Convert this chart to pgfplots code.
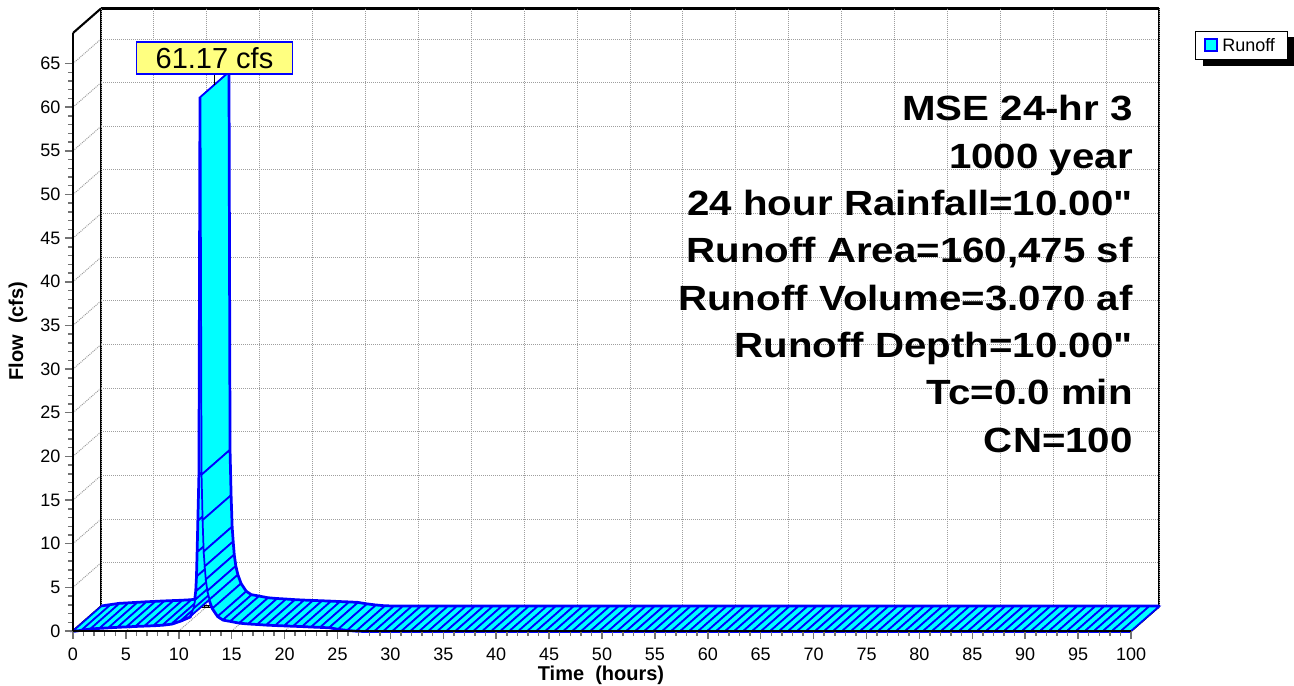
\documentclass[border=0pt]{standalone}
\usepackage{pgfplots}
\usepackage{pgfplotstable}
\pgfplotsset{compat=1.18}
\usepackage{fontspec}
\setmainfont{Liberation Sans}
\newfontfamily\statfont[FakeStretch=1.15]{Liberation Sans}
\definecolor{runcyan}{RGB}{0,255,255}
\definecolor{runblue}{RGB}{0,0,255}
\definecolor{lblyellow}{RGB}{255,255,128}
\pgfplotsset{colormap={cyanonly}{rgb255=(0,255,255) rgb255=(0,255,255)}}

% Runoff hydrograph: time (hours), flow (cfs)
\pgfplotstableread{
t q
0 0
0.85 0.15
1.7 0.3
2.55 0.36
3.4 0.42
4.25 0.48
5.1 0.53
5.95 0.58
6.8 0.62
7.65 0.66
8.5 0.72
9.35 0.85
10.2 1.2
11.05 1.65
11.4 2.6
11.55 3.6
11.65 4.6
11.72 6.3
11.78 9.1
11.85 12.7
11.95 17.9
12.05 61.17
12.15 17.9
12.25 12.7
12.35 9.1
12.45 7.4
12.55 5.9
12.7 4.6
12.9 3.6
13.2 2.6
13.7 1.7
14.2 1.3
14.9 1.15
15.75 0.95
16.6 0.86
17.45 0.8
18.3 0.73
19.15 0.68
20.0 0.64
20.85 0.6
21.7 0.56
22.55 0.51
23.4 0.47
24.25 0.42
25.1 0.25
25.95 0.12
26.8 0.03
27.65 0
28.5 0
29.35 0
30.2 0
31.05 0
31.9 0
32.75 0
33.6 0
34.45 0
35.3 0
36.15 0
37.0 0
37.85 0
38.7 0
39.55 0
40.4 0
41.25 0
42.1 0
42.95 0
43.8 0
44.65 0
45.5 0
46.35 0
47.2 0
48.05 0
48.9 0
49.75 0
50.6 0
51.45 0
52.3 0
53.15 0
54.0 0
54.85 0
55.7 0
56.55 0
57.4 0
58.25 0
59.1 0
59.95 0
60.8 0
61.65 0
62.5 0
63.35 0
64.2 0
65.05 0
65.9 0
66.75 0
67.6 0
68.45 0
69.3 0
70.15 0
71.0 0
71.85 0
72.7 0
73.55 0
74.4 0
75.25 0
76.1 0
76.95 0
77.8 0
78.65 0
79.5 0
80.35 0
81.2 0
82.05 0
82.9 0
83.75 0
84.6 0
85.45 0
86.3 0
87.15 0
88.0 0
88.85 0
89.7 0
90.55 0
91.4 0
92.25 0
93.1 0
93.95 0
94.8 0
95.65 0
96.5 0
97.35 0
98.2 0
99.05 0
100 0
}\hydro
\pgfplotstablegetrowsof{\hydro}
\edef\nrows{\pgfplotsretval}
\pgfplotstablevertcat{\ribbon}{\hydro}
\pgfplotstablevertcat{\ribbon}{\hydro}

\begin{document}
\begin{tikzpicture}
% ---------- 3D box, grid and ribbon ----------
\begin{axis}[
  x={(7.935pt,0pt)}, y={(21pt,18.375pt)}, z={(0pt,6.5475pt)},
  xmin=0, xmax=100, ymin=0, ymax=1, zmin=0, zmax=68.5,
  xtick={0,5,...,100}, ztick={0,5,...,65}, ytick=\empty,
  xticklabels={}, zticklabels={},
  major tick length=0pt, minor tick num=0,
  tick style={draw=none},
  grid=major,
  major grid style={black!38, line width=0.75pt, dash pattern=on 0.75pt off 0.75pt},
  axis line style={black, line width=1.6pt},
  clip=false,
  colormap name=cyanonly,
]
\addplot3[runblue, line width=2.8pt, no marks] table[x=t, y expr=0, z=q] {\hydro};
\addplot3[runblue, line width=2.8pt, no marks] table[x=t, y expr=1, z=q] {\hydro};
\addplot3[surf, shader=faceted, faceted color=runblue, line width=1.3pt,
  mesh/rows=2, mesh/ordering=x varies, z buffer=none]
  table[x=t, y expr={\coordindex<\nrows ? 0 : 1}, z=q] {\ribbon};
\coordinate (O) at (axis cs:0,0,0);
\draw[black, line width=1.1pt] (axis cs:12.05,0.5,61.17) -- ++(0pt,7.5pt)
  node[anchor=south, draw=runblue, line width=1.3pt, fill=lblyellow,
       minimum width=117pt, minimum height=24pt, inner sep=0pt,
       font=\fontsize{21.75}{24}\selectfont] {61.17 cfs};
\end{axis}
% ---------- front axes with ticks ----------
\begin{axis}[
  at={(O)}, anchor=origin,
  x=7.935pt, y=6.5475pt,
  xmin=0, xmax=100, ymin=0, ymax=68.5,
  axis x line*=bottom, axis y line*=left,
  axis line style={-, black, line width=2pt},
  xtick={0,5,...,100}, ytick={0,5,...,65},
  minor x tick num=4, minor y tick num=4,
  tick align=outside, major tick length=6pt, minor tick length=3.75pt,
  tick style={black!55, line width=1.1pt},
  ticklabel style={font=\fontsize{13.5}{15}\selectfont},
  xticklabel style={yshift=-3pt},
  /pgf/number format/assume math mode=true,
]
\end{axis}
% ---------- texts in pixel coordinates ----------
\begin{scope}[shift={(O)}, shift={(-54.75pt,473.25pt)}, x=0.75pt, y=-0.75pt]
  \node[anchor=base, text=runblue, font=\bfseries\fontsize{16.5}{18}\selectfont] at (575,-5) {Hydrograph};
  \node[rotate=90, font=\bfseries\fontsize{15}{17}\selectfont] at (18,331) {Flow\ \ (cfs)};
  \node[font=\bfseries\fontsize{15}{17}\selectfont] at (601,675) {Time\ \ (hours)};
  \begin{scope}[font=\statfont\bfseries\fontsize{26.25}{30}\selectfont, every node/.style={inner sep=0pt}]
    \node[anchor=base east] at (1133,121) {MSE 24-hr 3};
    \node[anchor=base east] at (1133,168.3) {1000 year};
    \node[anchor=base east] at (1133,215.6) {24 hour Rainfall=10.00"};
    \node[anchor=base east] at (1133,262.9) {Runoff Area=160,475 sf};
    \node[anchor=base east] at (1133,310.2) {Runoff Volume=3.070 af};
    \node[anchor=base east] at (1133,357.5) {Runoff Depth=10.00"};
    \node[anchor=base east] at (1133,404.8) {Tc=0.0 min};
    \node[anchor=base east] at (1133,452.1) {CN=100};
  \end{scope}
  % legend
  \fill[black] (1203,37) rectangle (1294,66);
  \draw[black, fill=white, line width=0.75pt] (1195,32) rectangle (1287,60);
  \draw[runblue, fill=runcyan, line width=1.1pt] (1205,39) rectangle (1217,51);
  \node[anchor=west, font=\fontsize{13.5}{15}\selectfont, inner sep=0pt] at (1222,45.5) {Runoff};
  \pgfresetboundingbox
  \path[use as bounding box] (0,0) rectangle (1294,685);
\end{scope}
\end{tikzpicture}
\end{document}
